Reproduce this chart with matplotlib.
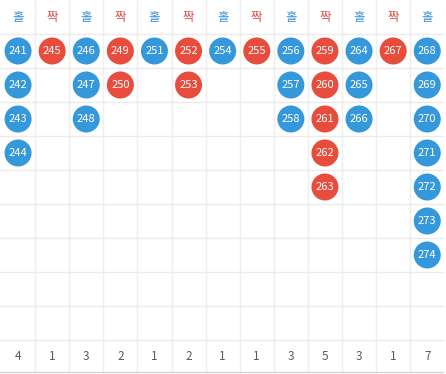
import matplotlib
matplotlib.use("Agg")
import matplotlib.pyplot as plt
from matplotlib.patches import Circle

plt.rcParams['font.family'] = ['Noto Sans CJK KR', 'DejaVu Sans']

headers = ['홀', '짝', '홀', '짝', '홀', '짝', '홀', '짝', '홀', '짝', '홀', '짝', '홀']
columns = [
    [241, 242, 243, 244],
    [245],
    [246, 247, 248],
    [249, 250],
    [251],
    [252, 253],
    [254],
    [255],
    [256, 257, 258],
    [259, 260, 261, 262, 263],
    [264, 265, 266],
    [267],
    [268, 269, 270, 271, 272, 273, 274],
]
counts = [len(c) for c in columns]

blue = '#3498db'
red = '#e74c3c'
head_colors = {'홀': '#3a8fd3', '짝': '#d9534f'}

W, H = 446, 374
fig = plt.figure(figsize=(W / 100, H / 100), dpi=100)
ax = fig.add_axes([0, 0, 1, 1])
ax.set_xlim(0, W)
ax.set_ylim(H, 0)
ax.axis('off')

cw = 34.1
x0 = 1
rh = 34
n_rows = 9
top = 34
bottom = top + rh * n_rows

# grid
for i in range(1, 13):
    ax.plot([x0 + cw * i] * 2, [0, bottom + 32], color='#efefef', lw=1)
for j in range(n_rows + 1):
    y = top + rh * j
    ax.plot([0, W - 3], [y, y], color='#ebebeb', lw=1)
ax.plot([0, W - 3], [bottom + 32, bottom + 32], color='#d5d5d5', lw=1)

for i, (h, nums) in enumerate(zip(headers, columns)):
    cx = x0 + cw * i + cw / 2
    ax.text(cx, top / 2, h, ha='center', va='center', fontsize=9,
            color=head_colors[h])
    fill = blue if h == '홀' else red
    for j, n in enumerate(nums):
        cy = top + rh * j + rh / 2
        ax.add_patch(Circle((cx, cy), 13.5, color=fill, lw=0))
        ax.text(cx, cy, str(n), ha='center', va='center', fontsize=8,
                color='white', fontweight='medium')
    ax.text(cx, bottom + 16, str(counts[i]), ha='center', va='center',
            fontsize=8.5, color='#5a5a5a')

fig.savefig('out.png', dpi=100)
